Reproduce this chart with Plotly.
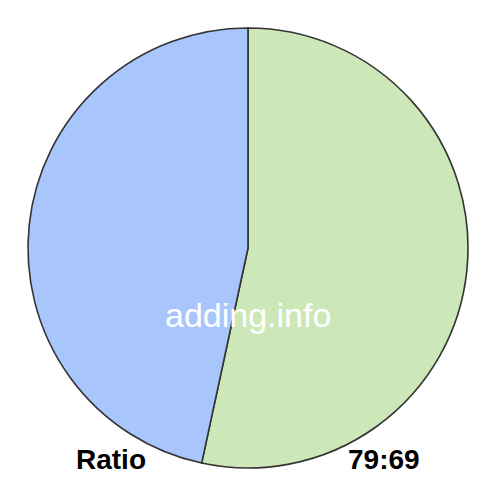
import plotly.graph_objects as go

# ratio parts, drawn clockwise from 12 o'clock
labels = ["79", "69"]
values = [79, 69]
colors = ["#cde8b8", "#a9c6fc"]

fig = go.Figure(go.Pie(
    labels=labels,
    values=values,
    sort=False,
    direction="clockwise",
    rotation=0,
    textinfo="none",
    hoverinfo="skip",
    marker=dict(colors=colors, line=dict(color="#333333", width=1.6)),
    domain=dict(x=[20/480, 460/480], y=[20/480, 460/480]),
))

font = "Liberation Sans, Arial, Helvetica"
fig.add_annotation(text="adding.info", x=0.5, y=1 - 307/480, xref="paper", yref="paper",
                   xanchor="center", yanchor="middle", showarrow=False,
                   font=dict(family=font, size=34, color="white"))
fig.add_annotation(text="<b>Ratio</b>", x=103/480, y=1 - 451/480, xref="paper", yref="paper",
                   xanchor="center", yanchor="middle", showarrow=False,
                   font=dict(family=font, size=28, color="black"))
fig.add_annotation(text="<b>79:69</b>", x=376/480, y=1 - 451/480, xref="paper", yref="paper",
                   xanchor="center", yanchor="middle", showarrow=False,
                   font=dict(family=font, size=28, color="black"))

fig.update_layout(width=480, height=480, margin=dict(l=0, r=0, t=0, b=0),
                  showlegend=False, paper_bgcolor="white", plot_bgcolor="white")

fig.write_html("out.html")
